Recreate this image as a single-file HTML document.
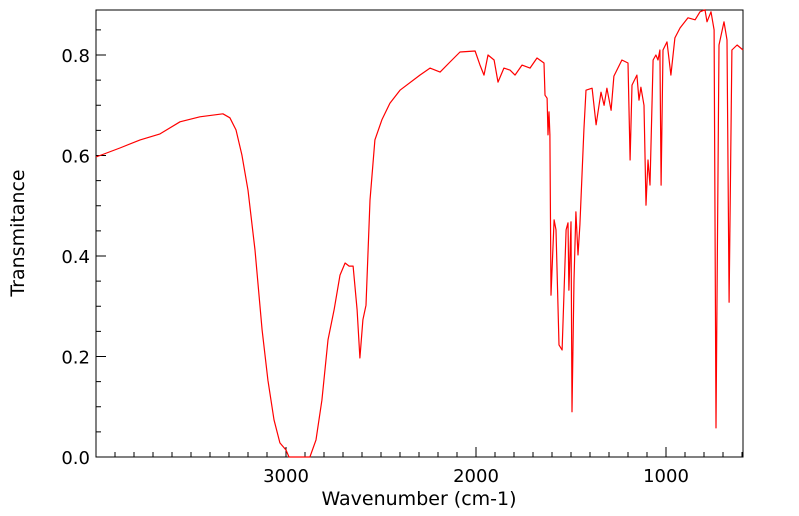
<!DOCTYPE html>
<html><head><meta charset="utf-8"><style>
body{margin:0;background:#fff;}
svg{display:block;font-family:"DejaVu Sans",sans-serif;}
</style></head><body>
<svg id="chart" width="799" height="516" viewBox="0 0 799 516"></svg>
<script>
const wavenumbers=[4000,3874,3768,3663,3558,3453,3332,3295,3263,3232,3200,3163,3126,3095,3063,3032,3000,2984,2874,2842,2811,2779,2747,2716,2689,2668,2647,2626,2611,2595,2579,2558,2532,2495,2453,2400,2295,2242,2189,2137,2084,2005,1979,1958,1937,1905,1884,1853,1821,1795,1758,1716,1679,1642,1637,1626,1621,1616,1611,1605,1589,1579,1563,1547,1526,1516,1511,1500,1495,1484,1474,1463,1453,1432,1421,1389,1368,1342,1326,1311,1289,1274,1232,1200,1189,1179,1153,1142,1132,1116,1105,1095,1084,1068,1053,1042,1032,1026,1016,995,974,953,926,884,847,821,795,784,763,747,737,721,695,679,668,653,626,595];
const transmittance=[.597,.615,.631,.643,.667,.677,.683,.675,.651,.601,.531,.412,.253,.153,.074,.028,.014,0,0,.034,.113,.233,.293,.362,.386,.380,.380,.293,.197,.273,.302,.511,.631,.671,.704,.730,.760,.774,.766,.786,.806,.808,.780,.760,.800,.790,.746,.774,.770,.760,.780,.774,.794,.784,.720,.714,.641,.687,.641,.322,.472,.452,.223,.213,.452,.466,.332,.468,.090,.352,.488,.402,.462,.651,.730,.734,.661,.726,.700,.734,.690,.758,.790,.784,.591,.740,.760,.710,.736,.700,.501,.591,.541,.790,.800,.790,.810,.541,.810,.826,.760,.834,.854,.874,.870,.886,.89,.866,.886,.850,.058,.820,.866,.830,.308,.810,.820,.810];
const xTicks=[3000,2000,1000];
const yTicks=[0,0.2,0.4,0.6,0.8];
const L=96,R=743,T=10,B=457;
const X=w=>286+(3000-w)*0.19;
const Y=v=>457-v*502.5;
const svg=document.getElementById('chart');
const NS='http://www.w3.org/2000/svg';
function mk(tag,attrs,parent){const e=document.createElementNS(NS,tag);for(const k in attrs)e.setAttribute(k,attrs[k]);(parent||svg).appendChild(e);return e;}
const frame=mk('rect',{x:L,y:T,width:R-L,height:B-T,fill:'none',stroke:'#000','stroke-width':1});


const xg=mk('g',{});


for(let w=600;w<=4000;w+=100){const x=X(w);if(x<L||x>R)continue;const major=w%1000===0;mk('line',{x1:x,x2:x,y1:B,y2:B-(major?10:5),stroke:'#000','stroke-width':1},xg);}
xTicks.forEach(w=>{const t=mk('text',{x:X(w),y:B+25,'text-anchor':'middle','font-size':18},xg);t.textContent=w;});
const yg=mk('g',{});


for(let i=0;i<=17;i++){const v=i*0.05;const y=Y(v);if(y<T)continue;const major=i%4===0;mk('line',{x1:L,x2:L+(major?10:5),y1:y,y2:y,stroke:'#000','stroke-width':1},yg);}
yTicks.forEach(v=>{const t=mk('text',{x:L-6,y:Y(v)+7,'text-anchor':'end','font-size':18},yg);t.textContent=v.toFixed(1);});
const xt=mk('text',{x:419,y:505,'text-anchor':'middle','font-size':19});
xt.textContent='Wavenumber (cm-1)';


const yt=mk('text',{x:24,y:233,'text-anchor':'middle','font-size':19,transform:'rotate(-90 24 233)'});
yt.textContent='Transmitance';


const pts=wavenumbers.map((w,i)=>X(w).toFixed(1)+','+Y(transmittance[i]).toFixed(1)).join(' ');
const line=mk('polyline',{points:pts,fill:'none',stroke:'#ff0000','stroke-width':1.2,'stroke-linejoin':'round'});


</script>
</body></html>
